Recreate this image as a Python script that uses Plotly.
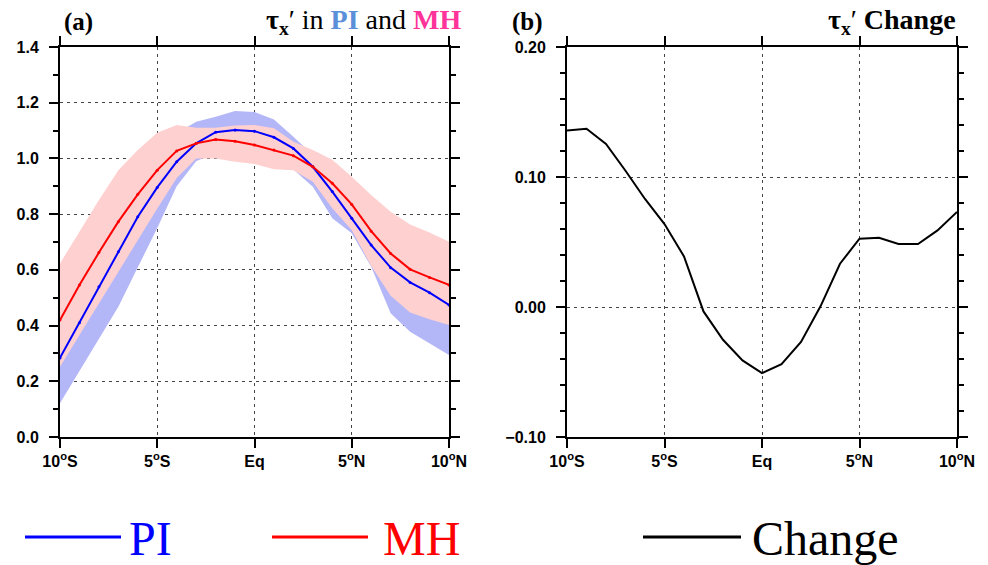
import plotly.graph_objects as go

# ---------------- data ----------------
lat = list(range(-10, 11))
tick_vals = [-10, -5, 0, 5, 10]
tick_text = ["10<sup>o</sup>S", "5<sup>o</sup>S", "Eq", "5<sup>o</sup>N", "10<sup>o</sup>N"]

pi_mean = [0.284, 0.41, 0.539, 0.665, 0.791, 0.896, 0.988, 1.054, 1.094, 1.102, 1.098,
           1.076, 1.036, 0.970, 0.881, 0.785, 0.689, 0.608, 0.555, 0.518, 0.474]
mh_mean = [0.420, 0.546, 0.662, 0.773, 0.871, 0.958, 1.027, 1.054, 1.068, 1.062, 1.048,
           1.030, 1.010, 0.970, 0.911, 0.835, 0.739, 0.659, 0.602, 0.573, 0.546]

pi_upper = [0.45, 0.57, 0.70, 0.82, 0.93, 1.02, 1.09, 1.132, 1.150, 1.170, 1.167,
            1.140, 1.078, 1.012, 0.95, 0.86, 0.77, 0.68, 0.63, 0.60, 0.56]
pi_lower = [0.121, 0.237, 0.353, 0.468, 0.609, 0.75, 0.90, 0.99, 1.02, 1.03, 1.02,
            1.00, 0.96, 0.898, 0.785, 0.731, 0.611, 0.444, 0.378, 0.336, 0.294]
mh_upper = [0.623, 0.736, 0.851, 0.958, 1.030, 1.092, 1.120, 1.110, 1.110, 1.118, 1.120,
            1.108, 1.060, 1.030, 0.995, 0.934, 0.869, 0.809, 0.763, 0.734, 0.701]
mh_lower = [0.252, 0.366, 0.480, 0.590, 0.707, 0.82, 0.93, 1.00, 1.00, 0.988, 0.980,
            0.961, 0.958, 0.916, 0.821, 0.743, 0.614, 0.507, 0.447, 0.423, 0.402]

change = [0.1358, 0.1371, 0.1254, 0.1048, 0.0831, 0.0638, 0.0389, -0.0034, -0.0252, -0.0411,
          -0.0508, -0.0439, -0.0269, 0.0005, 0.0333, 0.0525, 0.0533, 0.0485, 0.0485, 0.0589, 0.0731]

W, H = 988, 565
def px(x): return x / W
def py(y): return 1 - y / H

fig = go.Figure()

# panel (a) bands
fig.add_trace(go.Scatter(x=lat, y=pi_lower, mode="lines", line=dict(width=0), showlegend=False,
                         hoverinfo="skip", xaxis="x", yaxis="y"))
fig.add_trace(go.Scatter(x=lat, y=pi_upper, mode="lines", line=dict(width=0), fill="tonexty",
                         fillcolor="#b4b7f7", showlegend=False, hoverinfo="skip", xaxis="x", yaxis="y"))
fig.add_trace(go.Scatter(x=lat, y=mh_lower, mode="lines", line=dict(width=0), showlegend=False,
                         hoverinfo="skip", xaxis="x", yaxis="y"))
fig.add_trace(go.Scatter(x=lat, y=mh_upper, mode="lines", line=dict(width=0), fill="tonexty",
                         fillcolor="#ffd0d0", showlegend=False, hoverinfo="skip", xaxis="x", yaxis="y"))
# panel (a) lines
fig.add_trace(go.Scatter(x=lat, y=pi_mean, mode="lines+markers", line=dict(color="#0000ff", width=2),
                         marker=dict(size=3, color="#0000ff"), name="PI", showlegend=False,
                         xaxis="x", yaxis="y"))
fig.add_trace(go.Scatter(x=lat, y=mh_mean, mode="lines+markers", line=dict(color="#ff0000", width=2),
                         marker=dict(size=3, color="#ff0000"), name="MH", showlegend=False,
                         xaxis="x", yaxis="y"))
# panel (b)
fig.add_trace(go.Scatter(x=lat, y=change, mode="lines", line=dict(color="black", width=2),
                         name="Change", showlegend=False, xaxis="x2", yaxis="y2"))

tickfont = dict(family="Liberation Sans", size=16, color="black", weight="bold")
common_x = dict(range=[-10, 10], tickmode="array", tickvals=tick_vals, ticktext=tick_text,
                showline=True, linewidth=2, linecolor="black", mirror="ticks",
                ticks="outside", ticklen=9, tickwidth=1.5, tickcolor="black",
                showgrid=True, gridcolor="#444", gridwidth=1, griddash="3px,4px",
                zeroline=False, tickfont=tickfont,
                automargin=False, fixedrange=True)
common_y = dict(showline=True, linewidth=2, linecolor="black", mirror="ticks",
                ticks="outside", ticklen=9, tickwidth=1.5, tickcolor="black",
                showgrid=True, gridcolor="#444", gridwidth=1, griddash="3px,4px",
                zeroline=False, tickfont=tickfont, automargin=False, fixedrange=True,
                ticklabelstandoff=7)

ydom = [py(437), py(47)]
fig.update_layout(
    width=W, height=H, margin=dict(l=0, r=0, t=0, b=0),
    plot_bgcolor="white", paper_bgcolor="white", showlegend=False,
    xaxis=dict(domain=[px(60), px(449)], anchor="y", **common_x),
    yaxis=dict(domain=ydom, anchor="x", range=[0, 1.4], tickmode="linear", tick0=0, dtick=0.2,
               tickformat=".1f",
               minor=dict(dtick=0.1, ticks="outside", ticklen=5, tickwidth=1.5, tickcolor="black",
                          showgrid=False), **common_y),
    xaxis2=dict(domain=[px(567), px(957)], anchor="y2", **common_x),
    yaxis2=dict(domain=ydom, anchor="x2", range=[-0.1, 0.2], tickmode="linear", tick0=0, dtick=0.1,
                tickformat=".2f",
                minor=dict(dtick=0.02, ticks="outside", ticklen=5, tickwidth=1.5, tickcolor="black",
                           showgrid=False), **common_y),
)

serif = "Liberation Serif"
ann = []
ann.append(dict(x=px(62), y=py(22), xref="paper", yref="paper", xanchor="left", yanchor="middle",
                text="<b>(a)</b>", showarrow=False, font=dict(family=serif, size=25, color="black")))
ann.append(dict(x=px(463), y=py(22), xref="paper", yref="paper", xanchor="right", yanchor="middle",
                text="<b>τ<sub>x</sub></b>′ in <b><span style='color:#5b8fd9'>PI</span></b> and "
                     "<b><span style='color:#ff3399'>MH</span></b>",
                showarrow=False, font=dict(family=serif, size=28, color="black")))
ann.append(dict(x=px(510), y=py(22), xref="paper", yref="paper", xanchor="left", yanchor="middle",
                text="<b>(b)</b>", showarrow=False, font=dict(family=serif, size=25, color="black")))
ann.append(dict(x=px(958), y=py(22), xref="paper", yref="paper", xanchor="right", yanchor="middle",
                text="<b>τ<sub>x</sub></b>′ <b>Change</b>",
                showarrow=False, font=dict(family=serif, size=28, color="black")))

# bottom legend
legend_items = [("PI", "#0000ff", 25, 121, 127), ("MH", "#ff0000", 272, 368, 381), ("Change", "black", 643, 741, 750)]
shapes = []
for name, col, x0, x1, xt in legend_items:
    shapes.append(dict(type="line", xref="paper", yref="paper", x0=px(x0), x1=px(x1),
                       y0=py(537), y1=py(537), line=dict(color=col, width=3)))
    ann.append(dict(x=px(xt), y=py(538), xref="paper", yref="paper", xanchor="left", yanchor="middle",
                    text=name, showarrow=False, font=dict(family=serif, size=48, color=col)))

fig.update_layout(annotations=ann, shapes=shapes)
fig.write_html("out.html", config={"displayModeBar": False},
               post_script="document.body.style.margin='0';document.body.style.overflow='hidden';")
